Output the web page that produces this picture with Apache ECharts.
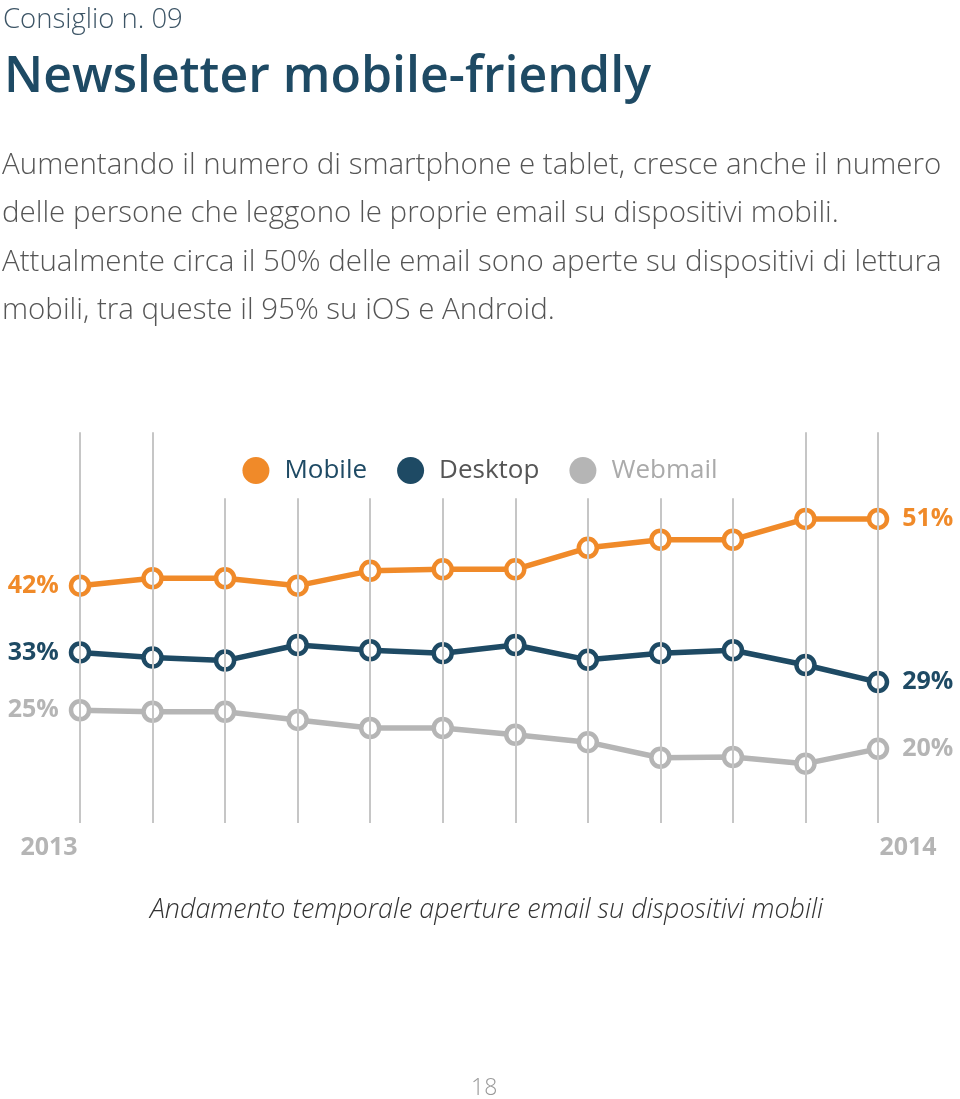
<!DOCTYPE html>
<html><head><meta charset="utf-8">
<script src="https://cdn.jsdelivr.net/npm/echarts@6/dist/echarts.min.js"></script>
<style>html,body{margin:0;padding:0;background:#fff}#c{width:960px;height:1099px}</style>
</head><body><div id="c"></div>
<script>
const periods = ['2013','p2','p3','p4','p5','p6','p7','p8','p9','p10','p11','2014'];
const seriesNames = ['Mobile','Desktop','Webmail'];
const mobile  = [42, 43, 43, 42, 44, 44.2, 44.2, 47.1, 48.2, 48.2, 51, 51];
const desktop = [33, 32.3, 31.9, 34, 33.3, 32.9, 34, 32, 32.9, 33.3, 31.3, 29];
const webmail = [25.2, 25, 25, 23.9, 22.8, 22.8, 21.9, 20.9, 18.8, 18.9, 18, 20];
const gridLineTop = [62.7, 62.7, 53.8, 53.8, 53.8, 53.8, 53.8, 53.8, 53.8, 53.8, 62.7, 62.7];
const gridLineBottom = 10;

const colors = ['#F08A29', '#1E4A64', '#B5B5B5'];
const legendText = ['#1E4A64', '#555555', '#AAAAAA'];
const FONT = "'Open Sans', 'Noto Sans', sans-serif";

function mkData(vals) {
  const last = vals.length - 1;
  return vals.map((v, i) => {
    if (i === 0) return {value: v, label: {show: true, position: 'left', distance: 10}};
    if (i === last) return {value: v, label: {show: true, position: 'right', distance: 13}};
    return v;
  });
}
function mkSeries(name, vals, color) {
  return {
    name, type: 'line', data: mkData(vals), z: 3,
    symbol: 'circle', symbolSize: 18,
    lineStyle: {color, width: 5.5},
    itemStyle: {color: '#fff', borderColor: color, borderWidth: 4.5},
    label: {show: false, color, fontFamily: FONT, fontWeight: 'bold', fontSize: 25,
      formatter: p => Math.round(p.value) + '%'},
    emphasis: {disabled: true}
  };
}

const chart = echarts.init(document.getElementById('c'));
chart.setOption({
  animation: false,
  backgroundColor: '#fff',
  grid: {left: 80, right: 82, top: 378, bottom: 276},
  legend: {
    top: 452, left: 'center', icon: 'circle', itemWidth: 27, itemHeight: 27, itemGap: 30,
    selectedMode: false,
    data: seriesNames.map((n, i) => ({name: n, itemStyle: {color: colors[i], borderWidth: 0},
      textStyle: {color: legendText[i], fontFamily: FONT, fontSize: 26, padding: [0, 0, 0, 10]}}))
  },
  xAxis: {
    type: 'category', data: periods, boundaryGap: false,
    axisLine: {show: false}, axisTick: {show: false}, splitLine: {show: false},
    axisLabel: {
      interval: (i) => i === 0 || i === periods.length - 1,
      margin: 12, color: '#B5B5B5', fontFamily: FONT, fontWeight: 'bold', fontSize: 25,
      formatter: (v, i) => i === 0 ? '{l|' + v + '}' : '{r|' + v + '}',
      rich: {
        l: {padding: [0, 62, 0, 0], color: '#B5B5B5', fontFamily: FONT, fontWeight: 'bold', fontSize: 25},
        r: {padding: [0, 0, 0, 60], color: '#B5B5B5', fontFamily: FONT, fontWeight: 'bold', fontSize: 25}
      }
    }
  },
  yAxis: {type: 'value', min: 10, max: 70, show: false, splitLine: {show: false}},
  series: [
    {
      name: 'grid', type: 'line', data: [], z: 1, silent: true,
      markLine: {
        silent: true, symbol: 'none', animation: false,
        label: {show: false},
        lineStyle: {color: '#C6C6C6', width: 2, type: 'solid'},
        emphasis: {disabled: true},
        data: periods.map((p, i) => [{coord: [i, gridLineBottom]}, {coord: [i, gridLineTop[i]]}])
      }
    },
    mkSeries('Mobile', mobile, colors[0]),
    mkSeries('Desktop', desktop, colors[1]),
    mkSeries('Webmail', webmail, colors[2])
  ],
  graphic: [
    {type: 'text', left: 3, top: 6, style: {text: 'Consiglio n. 09', fill: '#3D5566', font: "300 27.5px 'Open Sans', sans-serif"}},
    {type: 'text', left: 4, top: 53, style: {text: 'Newsletter mobile-friendly', fill: '#1E4A64', font: "600 50px 'Open Sans', sans-serif"}},
    {type: 'text', left: 2, top: 141, style: {
      text: 'Aumentando il numero di smartphone e tablet, cresce anche il numero\ndelle persone che leggono le proprie email su dispositivi mobili.\nAttualmente circa il 50% delle email sono aperte su dispositivi di lettura\nmobili, tra queste il 95% su iOS e Android.',
      fill: '#555555', font: "300 29.5px 'Open Sans', sans-serif", lineHeight: 48.5}},
    {type: 'text', left: 150, top: 897, style: {text: 'Andamento temporale aperture email su dispositivi mobili', fill: '#333333', font: "italic 300 26.9px 'Open Sans', sans-serif"}},
    {type: 'text', left: 471, top: 1077, style: {text: '18', fill: '#999999', font: "300 23px 'Open Sans', sans-serif"}}
  ]
});
</script></body></html>
